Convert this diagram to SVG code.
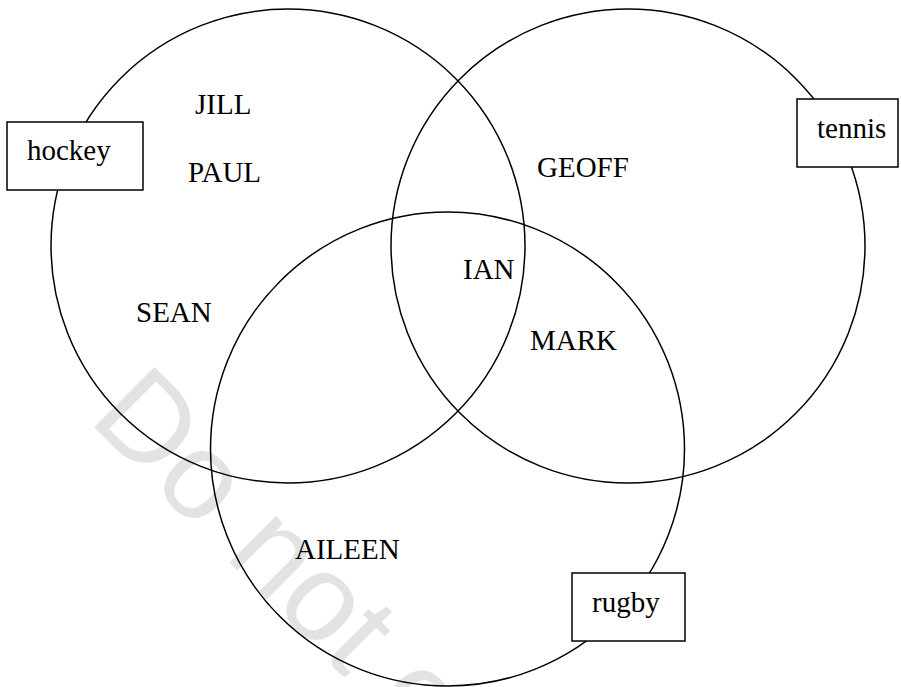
<svg xmlns="http://www.w3.org/2000/svg" width="901" height="687" viewBox="0 0 901 687">
<style>
.c{fill:none;stroke:#000;stroke-width:1.5}
.b{fill:#fff;stroke:#000;stroke-width:1.5}
.w{font-family:'Liberation Sans',Arial,sans-serif;font-size:124px;fill:#e3e3e3}
</style>
<rect width="901" height="687" fill="#fff"/>
<text class="w" transform="translate(87,420) rotate(45)">Do not copy</text>
<g id="circles">
<circle id="hockey-set" class="c" cx="288" cy="246" r="237"/>
<circle id="tennis-set" class="c" cx="628" cy="246" r="237"/>
<circle id="rugby-set" class="c" cx="447.5" cy="449" r="237"/>
</g>
<g font-family="Liberation Serif, Times New Roman, serif" font-size="29" fill="#000">
<g id="hockey"><rect class="b" x="7" y="122" width="136" height="68"/><text x="27" y="160">hockey</text></g>
<g id="tennis"><rect class="b" x="797" y="99" width="101" height="68"/><text x="817" y="138">tennis</text></g>
<g id="rugby"><rect class="b" x="572" y="573" width="113" height="68"/><text x="592" y="612">rugby</text></g>
<g id="names">
<text x="195" y="114">JILL</text>
<text x="188" y="182">PAUL</text>
<text x="537" y="177">GEOFF</text>
<text x="136" y="322">SEAN</text>
<text x="463" y="279">IAN</text>
<text x="530" y="350">MARK</text>
<text x="295" y="559">AILEEN</text>
</g>
</g>
</svg>
